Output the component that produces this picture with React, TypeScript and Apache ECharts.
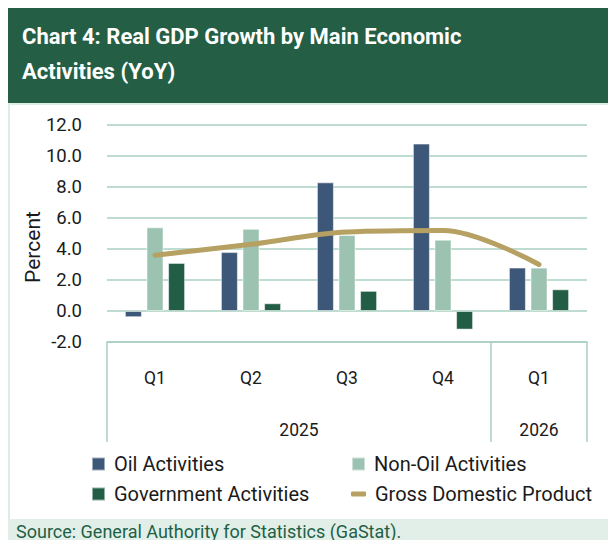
import React, { useEffect, useRef } from "react";
import * as echarts from "echarts";

const quarters = ["Q1", "Q2", "Q3", "Q4", "Q1"];
const yearLabels = ["2025", "2026"];
const oilActivities = [-0.4, 3.8, 8.3, 10.8, 2.8];
const nonOilActivities = [5.4, 5.3, 4.9, 4.6, 2.8];
const governmentActivities = [3.1, 0.5, 1.3, -1.2, 1.4];
const gdp = [3.6, 4.3, 5.1, 5.2, 3.0];
const yTicks = { min: -2, max: 12, interval: 2 };

const C_OIL = "#3d5779";
const C_NONOIL = "#9cc3b1";
const C_GOV = "#215e45";
const C_GDP = "#b6a062";
const C_HEADER = "#235e45";
const C_GRID = "#a8d0c1";
const FONT = "Roboto, 'Noto Sans', sans-serif";

export default function App() {
  const ref = useRef<HTMLDivElement>(null);
  useEffect(() => {
    document.body.style.margin = "0";
    if (!ref.current) return;
    const chart = echarts.init(ref.current, undefined, { renderer: "svg" });
    const legendBase = {
      padding: 0,
      itemWidth: 13,
      itemHeight: 13,
      icon: "rect",
      selectedMode: false,
      textStyle: { fontSize: 20, color: "#1a1a1a", fontFamily: FONT, padding: [0, 0, 0, 4] },
    };
    chart.setOption({
      animation: false,
      textStyle: { fontFamily: FONT },
      title: {
        text: "Chart 4: Real GDP Growth by Main Economic\nActivities (YoY)",
        left: 22,
        top: 19,
        padding: 0,
        textStyle: { color: "#ffffff", fontSize: 22, fontWeight: "bold", lineHeight: 35, fontFamily: FONT },
      },
      graphic: [
        { type: "rect", z: -10, shape: { x: 8, y: 8, width: 600, height: 95 }, style: { fill: C_HEADER } },
        { type: "rect", z: -10, shape: { x: 8, y: 103, width: 600, height: 2 }, style: { fill: "#dcede5" } },
        { type: "rect", z: -10, shape: { x: 8, y: 103, width: 2, height: 420 }, style: { fill: "#dcede5" } },
        { type: "rect", z: -10, shape: { x: 8, y: 519, width: 600, height: 21 }, style: { fill: "#e1efe8" } },
        {
          type: "text",
          x: 16,
          y: 531,
          style: { text: "Source: General Authority for Statistics (GaStat).", fill: "#1e5f46", fontSize: 18, fontFamily: FONT, verticalAlign: "middle", align: "left" },
        },
        {
          type: "text",
          x: 33,
          y: 247,
          rotation: Math.PI / 2,
          style: { text: "Percent", fill: "#1a1a1a", fontSize: 21, fontFamily: FONT, align: "center", verticalAlign: "middle" },
        },
      ],
      legend: [
        { ...legendBase, data: ["Oil Activities"], left: 91, top: 454 },
        { ...legendBase, data: ["Non-Oil Activities"], left: 351, top: 454 },
        { ...legendBase, data: ["Government Activities"], left: 91, top: 484 },
        { ...legendBase, data: [{ name: "Gross Domestic Product", icon: "roundRect" }], left: 351, top: 484, itemWidth: 15, itemHeight: 5 },
      ],
      grid: { left: 107, right: 21, top: 125, bottom: 198, containLabel: false },
      xAxis: [
        {
          type: "category",
          data: quarters,
          position: "bottom",
          axisLine: { show: true, onZero: false, lineStyle: { color: C_GRID, width: 1.5 } },
          axisTick: { show: false },
          axisLabel: { margin: 27, fontSize: 17.5, color: "#1a1a1a", fontFamily: FONT },
          splitLine: { show: false },
        },
        {
          type: "value",
          min: 0,
          max: 5,
          position: "bottom",
          axisLine: { show: false, onZero: false },
          splitLine: { show: false },
          axisTick: { show: true, customValues: [0, 4, 5], length: 100, lineStyle: { color: C_GRID, width: 1.5 } },
          axisLabel: {
            customValues: [2, 4.5],
            margin: 79,
            fontSize: 17.5,
            color: "#1a1a1a",
            fontFamily: FONT,
            formatter: (v: number) => (v === 2 ? yearLabels[0] : v === 4.5 ? yearLabels[1] : ""),
          },
        },
      ],
      yAxis: {
        type: "value",
        min: yTicks.min,
        max: yTicks.max,
        interval: yTicks.interval,
        axisLine: { show: false },
        axisTick: { show: false },
        axisLabel: { margin: 25, fontSize: 18.5, color: "#1a1a1a", fontFamily: FONT, formatter: (v: number) => v.toFixed(1) },
        splitLine: { show: true, lineStyle: { color: C_GRID, width: 1.5 } },
      },
      series: [
        {
          name: "Oil Activities",
          type: "bar",
          data: oilActivities,
          barWidth: 17,
          barGap: "27%",
          itemStyle: { color: C_OIL, borderColor: "rgba(255,255,255,0.5)", borderWidth: 1 },
        },
        {
          name: "Non-Oil Activities",
          type: "bar",
          data: nonOilActivities,
          barWidth: 17,
          barGap: "27%",
          itemStyle: { color: C_NONOIL, borderColor: "rgba(255,255,255,0.5)", borderWidth: 1 },
        },
        {
          name: "Government Activities",
          type: "bar",
          data: governmentActivities,
          barWidth: 17,
          barGap: "27%",
          itemStyle: { color: C_GOV, borderColor: "rgba(255,255,255,0.5)", borderWidth: 1 },
        },
        {
          name: "Gross Domestic Product",
          type: "line",
          data: gdp,
          smooth: 0.34,
          symbol: "none",
          showSymbol: false,
          z: 5,
          itemStyle: { color: C_GDP },
          lineStyle: { color: C_GDP, width: 5, cap: "round", join: "round" },
        },
      ],
    });
    return () => chart.dispose();
  }, []);
  return <div ref={ref} style={{ width: 608, height: 540 }} />;
}
